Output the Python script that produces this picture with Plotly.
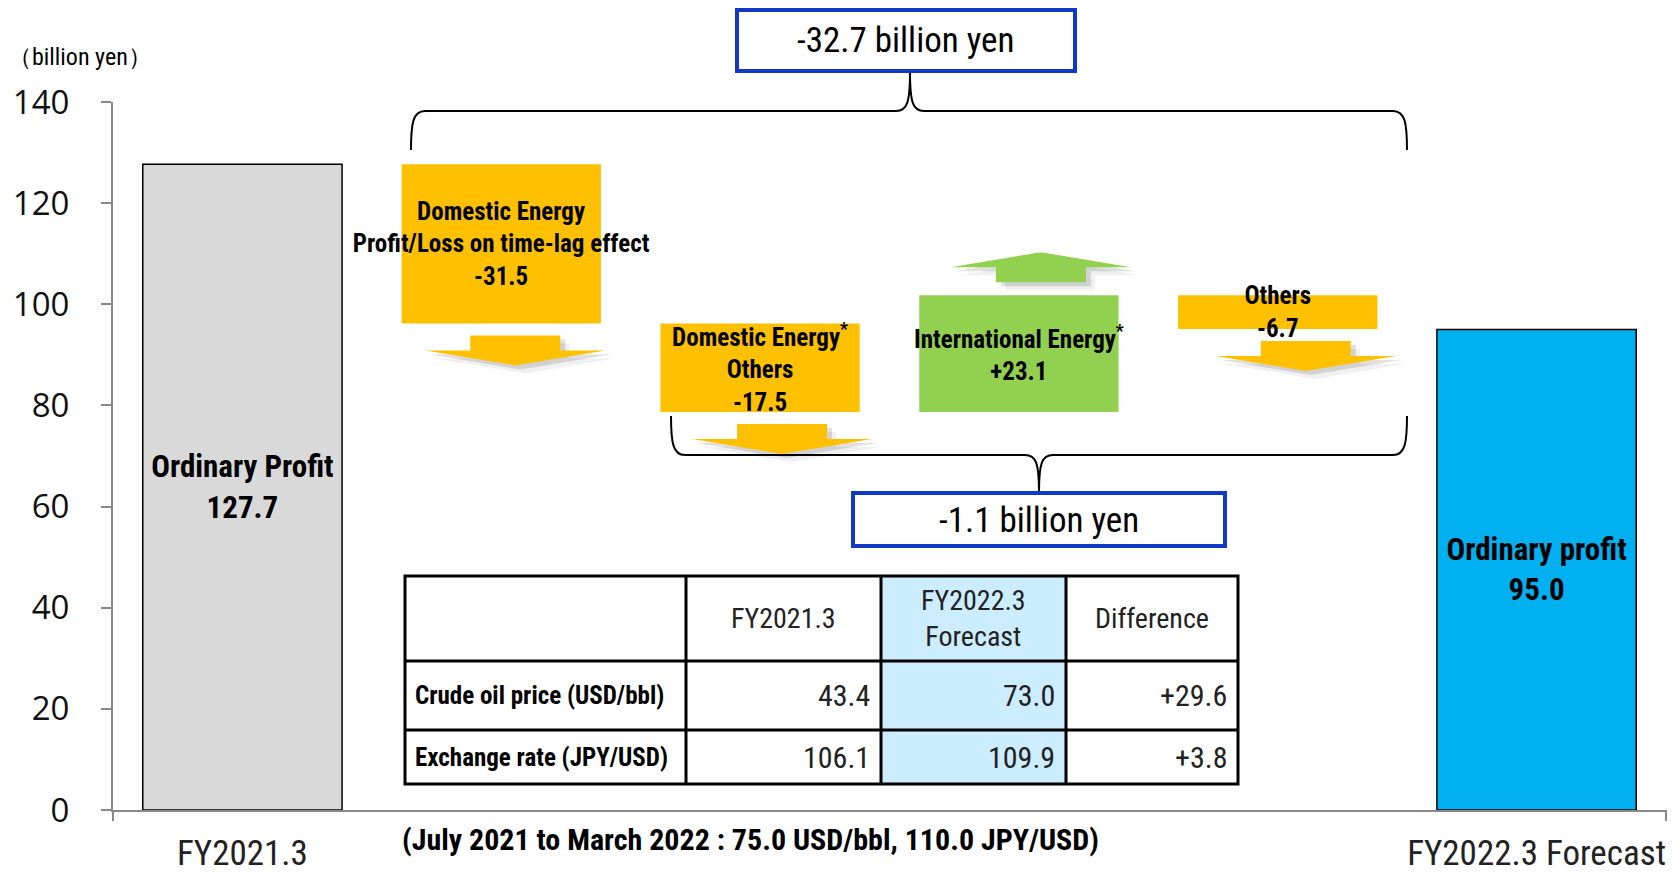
import plotly.graph_objects as go

# ---- data ----
categories = ["FY2021.3", "Domestic Energy time-lag", "Domestic Energy Others",
              "International Energy", "Others", "FY2022.3 Forecast"]
start_profit = 127.7
changes = [-31.5, -17.5, 23.1, -6.7]
end_profit = 95.0
bar_texts = [
    "Ordinary Profit<br>127.7",
    "Domestic Energy<br>Profit/Loss on time-lag effect<br>-31.5",
    "Domestic Energy<sup>*</sup><br>Others<br>-17.5",
    "International Energy<sup>*</sup><br>+23.1",
    "Others<br>-6.7",
    "Ordinary profit<br>95.0",
]
bar_colors = ["#D9D9D9", "#FFC000", "#FFC000", "#92D050", "#FFC000", "#00B0F0"]

total_label = "-32.7 billion yen"
sub_label = "-1.1 billion yen"

table_header = ["", "FY2021.3", "FY2022.3<br>Forecast", "Difference"]
table_rows = ["Crude oil price (USD/bbl)", "Exchange rate (JPY/USD)"]
fy2021_vals = ["43.4", "106.1"]
fy2022_vals = ["73.0", "109.9"]
diff_vals = ["+29.6", "+3.8"]
footnote = "(July 2021 to March 2022 : 75.0 USD/bbl, 110.0 JPY/USD)"

NARROW = "'Roboto Condensed', 'Open Sans Condensed', 'Liberation Sans', sans-serif"
TICKFONT = "'Open Sans', 'DejaVu Sans', sans-serif"
AXIS_GRAY = "#898989"
BOX_BLUE = "#1238C8"

W, H = 1679, 872
L, R, T, B = 105, 21, 94, 70
PW, PH = W - L - R, H - T - B
Y_MAX = 140

# bar bases for the waterfall
bases, heights = [0], [start_profit]
running = start_profit
for c in changes:
    bases.append(running)
    heights.append(c)
    running += c
bases.append(0)
heights.append(end_profit)

fig = go.Figure()
fig.add_trace(go.Bar(
    x=categories, y=heights, base=bases,
    marker=dict(color=bar_colors,
                line=dict(color=["#000", "rgba(0,0,0,0)", "rgba(0,0,0,0)", "rgba(0,0,0,0)",
                                 "rgba(0,0,0,0)", "#000"], width=1.5)),
    text=bar_texts, textposition="inside", insidetextanchor="middle",
    textangle=0, constraintext="none", cliponaxis=False,
    textfont=dict(family=NARROW, color="black", weight="bold",
                  size=[31, 25, 25, 25, 25, 31]),
    hoverinfo="skip", showlegend=False,
))

# plot-area pixel -> paper helpers (pixel values measured with the plot area at x=112, y=101)
X0, Y0 = 112, 101


def px(x):
    return (x - X0) / PW


def py(y):
    return (Y0 + PH - y) / PH


UX = len(categories) / PW   # category units per pixel
UY = Y_MAX / PH             # value units per pixel

shapes = []


def arrow(cx, y0, d, dx=0, dy=0, fill="#FFC000"):
    pts = [(-45, 0), (45, 0), (45, 15), (90, 15), (0, 30), (-90, 15), (-45, 15)]
    s = ""
    for k, (ax, ay) in enumerate(pts):
        xx = cx + (ax + dx) * UX
        yy = y0 + d * ay * UY - dy * UY
        s += ("M" if k == 0 else "L") + f"{xx:.4f},{yy:.4f}"
    return dict(type="path", xref="x", yref="y", path=s + "Z",
                fillcolor=fill, line=dict(width=0), layer="above")


arrow_shift_px = [14, 22, 22, 28]
for i, c in enumerate(changes):
    idx = i + 1
    cx = idx + arrow_shift_px[i] * UX
    if c < 0:
        y0 = bases[idx] + c - 12 * UY
        d = -1
        col = "#FFC000"
    else:
        y0 = bases[idx] + c + 13 * UY
        d = 1
        col = "#92D050"
    shapes.append(arrow(cx, y0, d, 9, 8, "rgba(0,0,0,0.06)"))
    shapes.append(arrow(cx, y0, d, 5, 4, "rgba(0,0,0,0.12)"))
    shapes.append(arrow(cx, y0, d, 0, 0, col))


def brace(x0, x1, xm, yh, yarm, ytip):
    s = 1 if yarm > yh else -1
    r = 14
    p = (f"M{px(x0)},{py(yarm)} C{px(x0)},{py(yh + s*12)} {px(x0 + 2)},{py(yh)} {px(x0 + r)},{py(yh)} "
         f"L{px(xm - r)},{py(yh)} C{px(xm - 3)},{py(yh)} {px(xm)},{py(yh - s*8)} {px(xm)},{py(ytip)} "
         f"C{px(xm)},{py(yh - s*8)} {px(xm + 3)},{py(yh)} {px(xm + r)},{py(yh)} "
         f"L{px(x1 - r)},{py(yh)} C{px(x1 - 2)},{py(yh)} {px(x1)},{py(yh + s*12)} {px(x1)},{py(yarm)}")
    return dict(type="path", xref="paper", yref="paper", path=p,
                line=dict(color="black", width=2))


shapes.append(brace(410, 1406, 909, 110, 149, 71))
shapes.append(brace(670, 1406, 1038, 454, 415, 491))

# label boxes
for (x0, x1, y0, y1) in [(736, 1074, 9, 70), (852, 1224, 492, 545)]:
    shapes.append(dict(type="rect", xref="paper", yref="paper",
                       x0=px(x0), x1=px(x1), y0=py(y1), y1=py(y0),
                       fillcolor="white", line=dict(color=BOX_BLUE, width=4)))

# table
cols = [404, 685, 880, 1065, 1237]
rows = [575, 660, 729, 783]
shapes.append(dict(type="rect", xref="paper", yref="paper",
                   x0=px(cols[2]), x1=px(cols[3]), y0=py(rows[3]), y1=py(rows[0]),
                   fillcolor="#CCECFF", line=dict(width=0)))
shapes.append(dict(type="rect", xref="paper", yref="paper",
                   x0=px(cols[0]), x1=px(cols[4]), y0=py(rows[3]), y1=py(rows[0]),
                   line=dict(color="black", width=3)))
for r in rows[1:3]:
    shapes.append(dict(type="line", xref="paper", yref="paper",
                       x0=px(cols[0]), x1=px(cols[4]), y0=py(r), y1=py(r),
                       line=dict(color="black", width=3)))
for c in cols[1:4]:
    shapes.append(dict(type="line", xref="paper", yref="paper",
                       x0=px(c), x1=px(c), y0=py(rows[0]), y1=py(rows[3]),
                       line=dict(color="black", width=3)))

# end ticks on the x axis
for xe in [0, 1]:
    shapes.append(dict(type="line", xref="paper", yref="paper",
                       x0=xe, x1=xe, y0=0, y1=-11 / PH,
                       line=dict(color=AXIS_GRAY, width=2)))

annotations = [
    dict(text="（billion yen）", x=px(79), y=py(56), font=dict(family=NARROW, size=24, color="black")),
    dict(text=total_label, x=px(905), y=py(40), font=dict(family=NARROW, size=35, color="black")),
    dict(text=sub_label, x=px(1038), y=py(519), font=dict(family=NARROW, size=35, color="black")),
    dict(text=footnote, x=px(749), y=py(838), font=dict(family=NARROW, size=30, color="black", weight="bold")),
]
hdr_font = dict(family=NARROW, size=28, color="#222")
for k in range(1, 4):
    annotations.append(dict(text=table_header[k], x=px((cols[k] + cols[k + 1]) / 2),
                            y=py((rows[0] + rows[1]) / 2), font=hdr_font))
for j in range(2):
    yc = py((rows[j + 1] + rows[j + 2]) / 2)
    annotations.append(dict(text=table_rows[j], x=px(cols[0] + 8), y=yc, xanchor="left",
                            font=dict(family=NARROW, size=25, color="black", weight="bold")))
    for k, vals in enumerate([fy2021_vals, fy2022_vals, diff_vals]):
        annotations.append(dict(text=vals[j], x=px(cols[k + 2] - 9), y=yc, xanchor="right",
                                font=dict(family=NARROW, size=30, color="#222")))
for a in annotations:
    a.update(xref="paper", yref="paper", showarrow=False)
    a.setdefault("xanchor", "center")
    a.setdefault("yanchor", "middle")

fig.update_layout(
    width=W, height=H,
    margin=dict(l=L, r=R, t=T, b=B, autoexpand=False),
    paper_bgcolor="white", plot_bgcolor="white",
    bargap=0.23,
    shapes=shapes, annotations=annotations,
    xaxis=dict(range=[-0.5, 5.5], tickvals=[categories[0], categories[-1]],
               showline=True, linecolor=AXIS_GRAY, linewidth=2, ticks="",
               showgrid=False, zeroline=False, ticklabelstandoff=11,
               tickfont=dict(family=NARROW, size=35, color="#222")),
    yaxis=dict(range=[0, Y_MAX], dtick=20, ticks="outside", ticklen=10,
               tickcolor=AXIS_GRAY, tickwidth=2, showline=True, linecolor=AXIS_GRAY,
               linewidth=2, showgrid=False, zeroline=False, ticklabelstandoff=25,
               tickfont=dict(family=TICKFONT, size=33, color="#111")),
)

fig.write_html("out.html")
